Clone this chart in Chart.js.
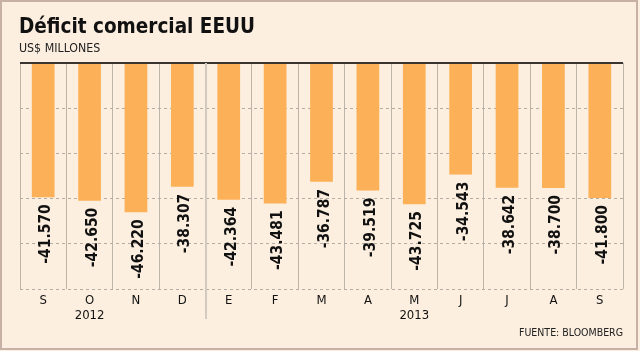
<!DOCTYPE html>
<html>
<head>
<meta charset="utf-8">
<script src="https://cdn.jsdelivr.net/npm/chart.js@4/dist/chart.umd.min.js"></script>
<style>
  html, body { margin: 0; padding: 0; background: #fcefdf; }
  canvas { display: block; }
</style>
</head>
<body>
<canvas id="deficitChart" width="640" height="351"></canvas>
<script>
// datos del gráfico
const meses = ['S', 'O', 'N', 'D', 'E', 'F', 'M', 'A', 'M', 'J', 'J', 'A', 'S'];
const anios = ['', '2012', '', '', '', '', '', '', '2013', '', '', '', ''];
const deficit = [-41.570, -42.650, -46.220, -38.307, -42.364, -43.481, -36.787, -39.519, -43.725, -34.543, -38.642, -38.700, -41.800];
const yMin = -70;
const yMax = 0;
const yPaso = 14;
const titulo = 'Déficit comercial EEUU';
const subtitulo = 'US$ MILLONES';
const fuente = 'FUENTE: BLOOMBERG';
const corteAnio = 3; // la línea de año va después de diciembre

const FONT = '"DejaVu Sans Condensed", "DejaVu Sans", sans-serif';

// textos, bordes y etiquetas de valores
const decoracion = {
    id: 'decoracion',
    beforeDraw(chart) {
        const ctx = chart.ctx;
        ctx.save();
        ctx.fillStyle = '#fcefdf';
        ctx.fillRect(0, 0, chart.width, chart.height);
        ctx.restore();
    },
    afterDatasetsDraw(chart) {
        const ctx = chart.ctx;
        const area = chart.chartArea;
        const xScale = chart.scales.x;
        ctx.save();

        // línea superior oscura
        ctx.strokeStyle = '#3a3330';
        ctx.lineWidth = 2;
        ctx.beginPath();
        ctx.moveTo(area.left, area.top);
        ctx.lineTo(area.right, area.top);
        ctx.stroke();

        // separador de años
        const xa = xScale.getPixelForValue(corteAnio);
        const xb = xScale.getPixelForValue(corteAnio + 1);
        const xs = Math.round((xa + xb) / 2);
        ctx.strokeStyle = '#d2c9bf';
        ctx.lineWidth = 2;
        ctx.beginPath();
        ctx.moveTo(xs, area.top);
        ctx.lineTo(xs, area.bottom + 30);
        ctx.stroke();

        // etiquetas de valores, giradas
        const meta = chart.getDatasetMeta(0);
        ctx.fillStyle = '#111';
        ctx.font = 'bold 15.5px ' + FONT;
        ctx.textAlign = 'right';
        ctx.textBaseline = 'middle';
        meta.data.forEach((bar, i) => {
            ctx.save();
            ctx.translate(bar.x + 3, bar.y);
            ctx.rotate(-Math.PI / 2);
            ctx.fillText(deficit[i].toFixed(3), -7, 0);
            ctx.restore();
        });

        // títulos
        ctx.textAlign = 'left';
        ctx.textBaseline = 'alphabetic';
        ctx.fillStyle = '#111';
        ctx.font = 'bold 20.5px ' + FONT;
        ctx.fillText(titulo, 19, 33);
        ctx.fillStyle = '#222';
        ctx.font = '12.3px ' + FONT;
        ctx.fillText(subtitulo, 19, 52);
        ctx.textAlign = 'right';
        ctx.font = '10.5px ' + FONT;
        ctx.fillText(fuente, area.right, 336);

        // marco
        ctx.strokeStyle = '#c7b0a6';
        ctx.lineWidth = 2;
        ctx.strokeRect(1, 1, chart.width - 4, chart.height - 3);
        ctx.restore();
    }
};

const canvas = document.getElementById('deficitChart');
const chart = new Chart(canvas.getContext('2d'), {
    type: 'bar',
    data: {
        labels: meses.map((m, i) => anios[i] ? [m, anios[i]] : m),
        datasets: [{
            data: deficit,
            backgroundColor: '#fcb057',
            borderWidth: 0,
            barPercentage: 0.49,
            categoryPercentage: 1
        }]
    },
    options: {
        responsive: false,
        devicePixelRatio: 1,
        animation: false,
        layout: { padding: { left: 20, right: 17, top: 63, bottom: 0 } },
        plugins: {
            legend: { display: false },
            tooltip: { enabled: false }
        },
        scales: {
            x: {
                afterFit(scale) { scale.height = 62; },
                grid: { color: '#bdb4aa', lineWidth: 1, drawTicks: false, offset: true },
                border: { display: false },
                ticks: {
                    color: '#111',
                    font: { family: FONT, size: 13, lineHeight: 1.15 },
                    padding: 4,
                    maxRotation: 0,
                    autoSkip: false
                }
            },
            y: {
                min: yMin,
                max: yMax,
                afterFit(scale) { scale.width = 0; },
                ticks: { display: false, stepSize: yPaso },
                grid: { color: '#b5aca3', lineWidth: 1, drawTicks: false },
                border: { display: false, dash: [3, 3] }
            }
        }
    },
    plugins: [decoracion]
});
</script>
</body>
</html>
